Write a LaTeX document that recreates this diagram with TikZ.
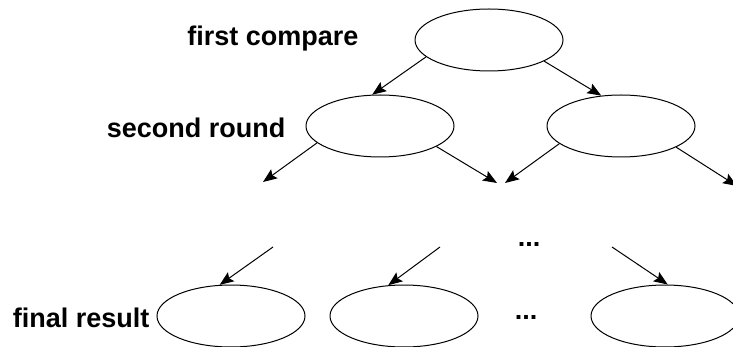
\documentclass[tikz,border=0pt]{standalone}
\usepackage{fontspec}
\setmainfont{Liberation Sans}
\usetikzlibrary{
    arrows.meta,
    shapes.geometric,
    positioning
}
\tikzset{
    % Box styles
    round box/.style={
        draw=black,
        line width=1pt,
        ellipse,
        inner sep=0pt,
        minimum width=148pt,
        minimum height=62pt
    },
    level label/.style={
        anchor=east,
        font=\fontsize{27}{31}\selectfont\bfseries
    },
    dots label/.style={
        font=\fontsize{27}{31}\selectfont\bfseries
    },
    % Arrow styles
    flow arrow/.style={
        -{Stealth[length=14pt,width=11pt,inset=2.5pt]},
        line width=1pt,
        black
    }
}

\begin{document}
\begin{tikzpicture}[x=1pt,y=-1pt]
    \useasboundingbox (0,0) rectangle (733,347);
    % rounds
    \node[round box] (top) at (489,40) {};
    \node[round box] (left) at (380,126) {};
    \node[round box] (right) at (621,126) {};
    \node[round box] (res1) at (231,316) {};
    \node[round box] (res2) at (404,316) {};
    \node[round box] (res3) at (665,316) {};
    % labels
    \node[level label] (firstlbl) at (362,39) {first compare};
    \node[level label] (secondlbl) at (289,128) {second round};
    \node[level label] (finallbl) at (153,318) {final result};
    \node[dots label] (dotsmid) at (529,244) {...};
    \node[dots label] (dotsend) at (526,317) {...};
    % free ends
    \coordinate (out1) at (263,182);
    \coordinate (out2) at (497,183);
    \coordinate (out3) at (505,183);
    \coordinate (out4) at (737,186);
    \coordinate (in1) at (273,247);
    \coordinate (in2) at (440,247);
    \coordinate (in3) at (612,247);
    % arrows
    \draw[flow arrow] (top.195) -- (left.104);
    \draw[flow arrow] (top.339) -- (right.123);
    \draw[flow arrow] (left.195) -- (out1);
    \draw[flow arrow] (left.340) -- (out2);
    \draw[flow arrow] (right.196) -- (out3);
    \draw[flow arrow] (right.339) -- (out4);
    \draw[flow arrow] (in1) -- (res1.110);
    \draw[flow arrow] (in2) -- (res2.117);
    \draw[flow arrow] (in3) -- (res3.85);
\end{tikzpicture}
\end{document}
